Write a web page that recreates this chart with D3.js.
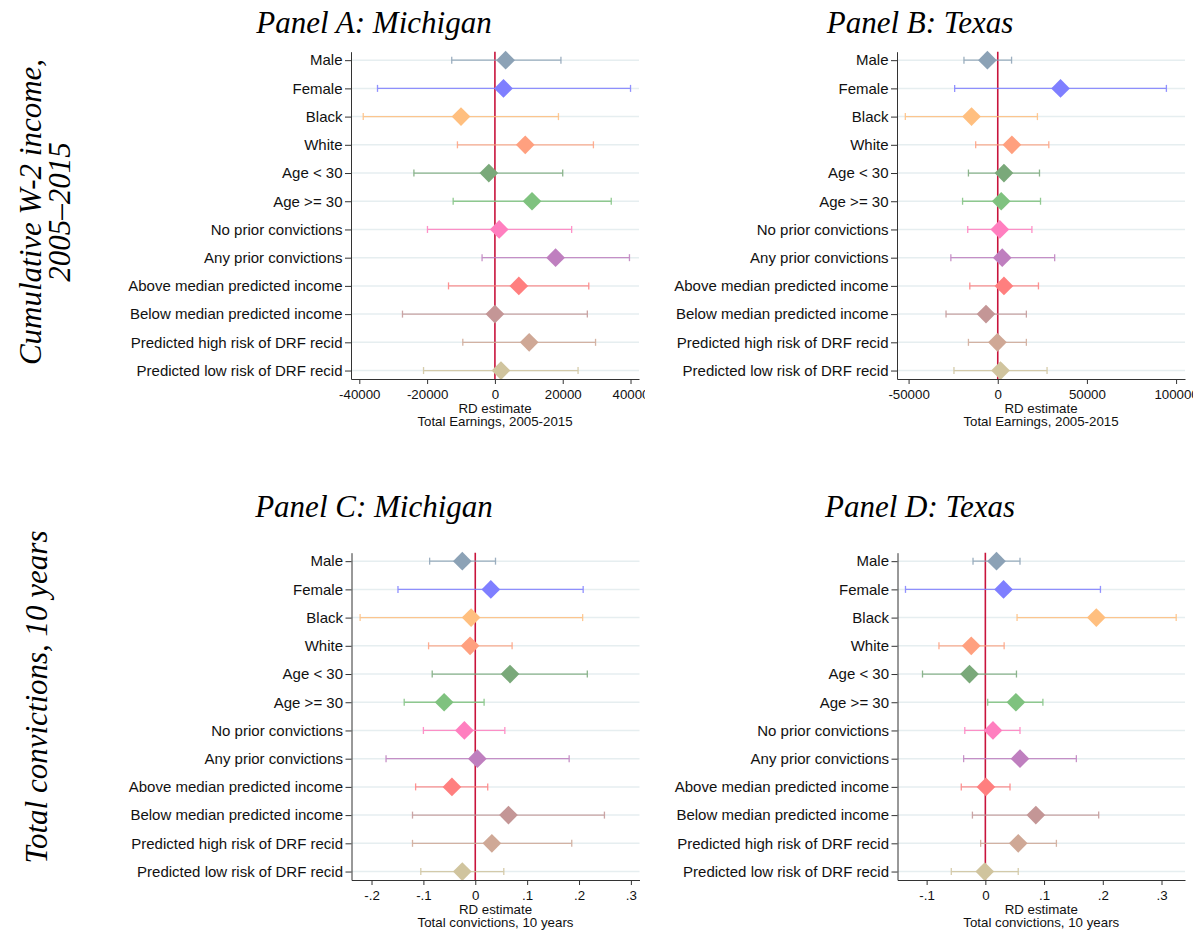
<!DOCTYPE html>
<html>
<head>
<meta charset="utf-8">
<script src="https://cdn.jsdelivr.net/npm/d3@7"></script>
<style>
body { margin: 0; background: #fff; }
.axis path, .axis line { stroke: #333; }
.axis text { fill: #111; font-family: "Liberation Sans", Arial, sans-serif; }
</style>
</head>
<body>
<svg width="1201" height="933"></svg>
<script>
// subgroups, top to bottom
var categories = ["Male", "Female", "Black", "White", "Age < 30", "Age >= 30",
  "No prior convictions", "Any prior convictions", "Above median predicted income",
  "Below median predicted income", "Predicted high risk of DRF recid", "Predicted low risk of DRF recid"];

var markerColors = ["#8ca2b6", "#7f7fff", "#ffbf7f", "#ffa07f", "#7aa97a", "#7fc27f",
  "#ff7fbf", "#bf7fbf", "#ff7f7f", "#c49696", "#cfa896", "#d0c49e"];

// Panel A: Michigan, total earnings 2005-2015
var miEarnEst = [3158, 2526, -10000, 8947, -1789, 10947, 1263, 17895, 7053, 0, 10105, 1789];
var miEarnLo  = [-12737, -34632, -38842, -11053, -23895, -12316, -19895, -3789, -13684, -27263, -9474, -21053];
var miEarnHi  = [19474, 40000, 18737, 29053, 20000, 34316, 22632, 39684, 27684, 27263, 29684, 24526];

// Panel B: Texas, total earnings 2005-2015
var txEarnEst = [-5800, 35200, -14700, 7930, 3480, 1930, 1160, 2510, 3480, -6580, -190, 1550];
var txEarnLo  = [-18950, -24170, -51830, -12380, -16440, -19730, -16830, -26300, -15670, -29010, -16440, -24560];
var txEarnHi  = [7740, 94570, 22240, 28620, 23400, 23980, 19150, 31910, 22820, 16050, 16050, 27650];

// Panel C: Michigan, total convictions 10 years
var miConvEst = [-0.025, 0.030, -0.008, -0.010, 0.067, -0.060, -0.021, 0.004, -0.045, 0.064, 0.032, -0.025];
var miConvLo  = [-0.088, -0.149, -0.222, -0.090, -0.083, -0.137, -0.100, -0.172, -0.115, -0.121, -0.121, -0.105];
var miConvHi  = [0.039, 0.208, 0.207, 0.071, 0.216, 0.017, 0.057, 0.181, 0.024, 0.249, 0.186, 0.055];

// Panel D: Texas, total convictions 10 years
var txConvEst = [0.019, 0.031, 0.189, -0.024, -0.027, 0.052, 0.013, 0.059, 0.001, 0.086, 0.056, -0.001];
var txConvLo  = [-0.021, -0.136, 0.054, -0.079, -0.107, 0.004, -0.035, -0.037, -0.041, -0.022, -0.008, -0.058];
var txConvHi  = [0.059, 0.196, 0.325, 0.032, 0.053, 0.098, 0.059, 0.155, 0.042, 0.193, 0.121, 0.056];

var miEarnTicks = [-40000, -20000, 0, 20000, 40000];
var txEarnTicks = [-50000, 0, 50000, 100000];
var miConvTicks = [-0.2, -0.1, 0, 0.1, 0.2, 0.3];
var txConvTicks = [-0.1, 0, 0.1, 0.2, 0.3];

// Stata style labels: plain hyphen, no leading zero
var earnFmt = function(d) { return (d < 0 ? "-" : "") + Math.abs(d); };
var convFmt = function(d) {
  if (d === 0) return "0";
  return (d < 0 ? "-" : "") + Math.abs(d).toFixed(1).replace(/^0/, "");
};

var serif = "'Liberation Serif', 'Times New Roman', serif";
var sans = "'Liberation Sans', Arial, sans-serif";

var svg = d3.select("svg");

var panels = [
  {title: "Panel A: Michigan", est: miEarnEst, lo: miEarnLo, hi: miEarnHi, ticks: miEarnTicks, fmt: earnFmt,
   domain: [-42450, 42500], left: 351, right: 639, top: 51.7, bottom: 379, clip: 645,
   titleX: 374, titleY: 33, sub: "Total Earnings, 2005-2015"},
  {title: "Panel B: Texas", est: txEarnEst, lo: txEarnLo, hi: txEarnHi, ticks: txEarnTicks, fmt: earnFmt,
   domain: [-56500, 105000], left: 897, right: 1185, top: 51.7, bottom: 379, clip: 1193,
   titleX: 920, titleY: 33, sub: "Total Earnings, 2005-2015"},
  {title: "Panel C: Michigan", est: miConvEst, lo: miConvLo, hi: miConvHi, ticks: miConvTicks, fmt: convFmt,
   domain: [-0.2386, 0.3166], left: 351.5, right: 639.5, top: 552.7, bottom: 880, clip: 645,
   titleX: 374, titleY: 517, sub: "Total convictions, 10 years"},
  {title: "Panel D: Texas", est: txConvEst, lo: txConvLo, hi: txConvHi, ticks: txConvTicks, fmt: convFmt,
   domain: [-0.1496, 0.340], left: 897.5, right: 1185, top: 552.7, bottom: 880, clip: 1193,
   titleX: 920, titleY: 517, sub: "Total convictions, 10 years"}
];

var defs = svg.append("defs");

panels.forEach(function(p, i) {
  defs.append("clipPath").attr("id", "clip" + i)
    .append("rect").attr("x", 0).attr("y", p.top - 20).attr("width", p.clip).attr("height", 420);

  var x = d3.scaleLinear().domain(p.domain).range([p.left, p.right]);
  var y = d3.scalePoint().domain(categories).range([p.top, p.bottom]).padding(0.3);

  var rows = categories.map(function(c, k) {
    return {cat: c, est: p.est[k], lo: p.lo[k], hi: p.hi[k], color: markerColors[k]};
  });

  // title
  svg.append("text")
    .attr("x", p.titleX).attr("y", p.titleY)
    .attr("text-anchor", "middle")
    .style("font-family", serif).style("font-style", "italic").style("font-size", "31px")
    .text(p.title);

  var g = svg.append("g").attr("clip-path", "url(#clip" + i + ")");

  // grid lines
  g.selectAll(".grid").data(rows).enter().append("line")
    .attr("x1", p.left).attr("x2", p.right)
    .attr("y1", function(d) { return y(d.cat); }).attr("y2", function(d) { return y(d.cat); })
    .style("stroke", "#e6eef0").style("stroke-width", 1.5);

  // zero line
  g.append("line")
    .attr("x1", x(0)).attr("x2", x(0)).attr("y1", p.top).attr("y2", p.bottom)
    .style("stroke", "#c8143c").style("stroke-width", 1.6);

  // error bars
  var bars = g.selectAll(".bar").data(rows).enter().append("g")
    .style("stroke", function(d) { return d.color; }).style("stroke-width", 1.3).style("opacity", 0.85);
  bars.append("line")
    .attr("x1", function(d) { return x(d.lo); }).attr("x2", function(d) { return x(d.hi); })
    .attr("y1", function(d) { return y(d.cat); }).attr("y2", function(d) { return y(d.cat); });
  bars.append("line")
    .attr("x1", function(d) { return x(d.lo); }).attr("x2", function(d) { return x(d.lo); })
    .attr("y1", function(d) { return y(d.cat) - 3.5; }).attr("y2", function(d) { return y(d.cat) + 3.5; });
  bars.append("line")
    .attr("x1", function(d) { return x(d.hi); }).attr("x2", function(d) { return x(d.hi); })
    .attr("y1", function(d) { return y(d.cat) - 3.5; }).attr("y2", function(d) { return y(d.cat) + 3.5; });

  // diamonds
  g.selectAll(".pt").data(rows).enter().append("path")
    .attr("d", d3.symbol(d3.symbolSquare, 175))
    .attr("transform", function(d) { return "translate(" + x(d.est) + "," + y(d.cat) + ") rotate(45)"; })
    .style("fill", function(d) { return d.color; });

  // axes
  var ya = g.append("g").attr("class", "axis")
    .attr("transform", "translate(" + p.left + ",0)")
    .call(d3.axisLeft(y).tickSize(6).tickSizeOuter(0).tickPadding(2.5));
  ya.selectAll("text").style("font-size", "15px");

  var xa = g.append("g").attr("class", "axis")
    .attr("transform", "translate(0," + p.bottom + ")")
    .call(d3.axisBottom(x).tickValues(p.ticks).tickFormat(p.fmt).tickSize(5).tickSizeOuter(0).tickPadding(6));
  xa.selectAll("text").style("font-size", "13.3px");

  var cx = (p.left + p.right) / 2;
  g.append("text").attr("x", cx).attr("y", p.bottom + 34).attr("text-anchor", "middle")
    .style("font-family", sans).style("font-size", "13.3px").style("fill", "#111").text("RD estimate");
  g.append("text").attr("x", cx).attr("y", p.bottom + 47).attr("text-anchor", "middle")
    .style("font-family", sans).style("font-size", "13.3px").style("fill", "#111").text(p.sub);
});

// row titles on the left
var rowTitles = [
  {lines: ["Cumulative W-2 income,", "2005\u20132015"], cy: 212, x0: 41},
  {lines: ["Total convictions, 10 years"], cy: 697, x0: 47}
];
rowTitles.forEach(function(r) {
  r.lines.forEach(function(line, k) {
    svg.append("text")
      .attr("transform", "translate(" + (r.x0 + k * 29) + "," + r.cy + ") rotate(-90)")
      .attr("text-anchor", "middle")
      .style("font-family", serif).style("font-style", "italic").style("font-size", "31px")
      .text(line);
  });
});
</script>
</body>
</html>
